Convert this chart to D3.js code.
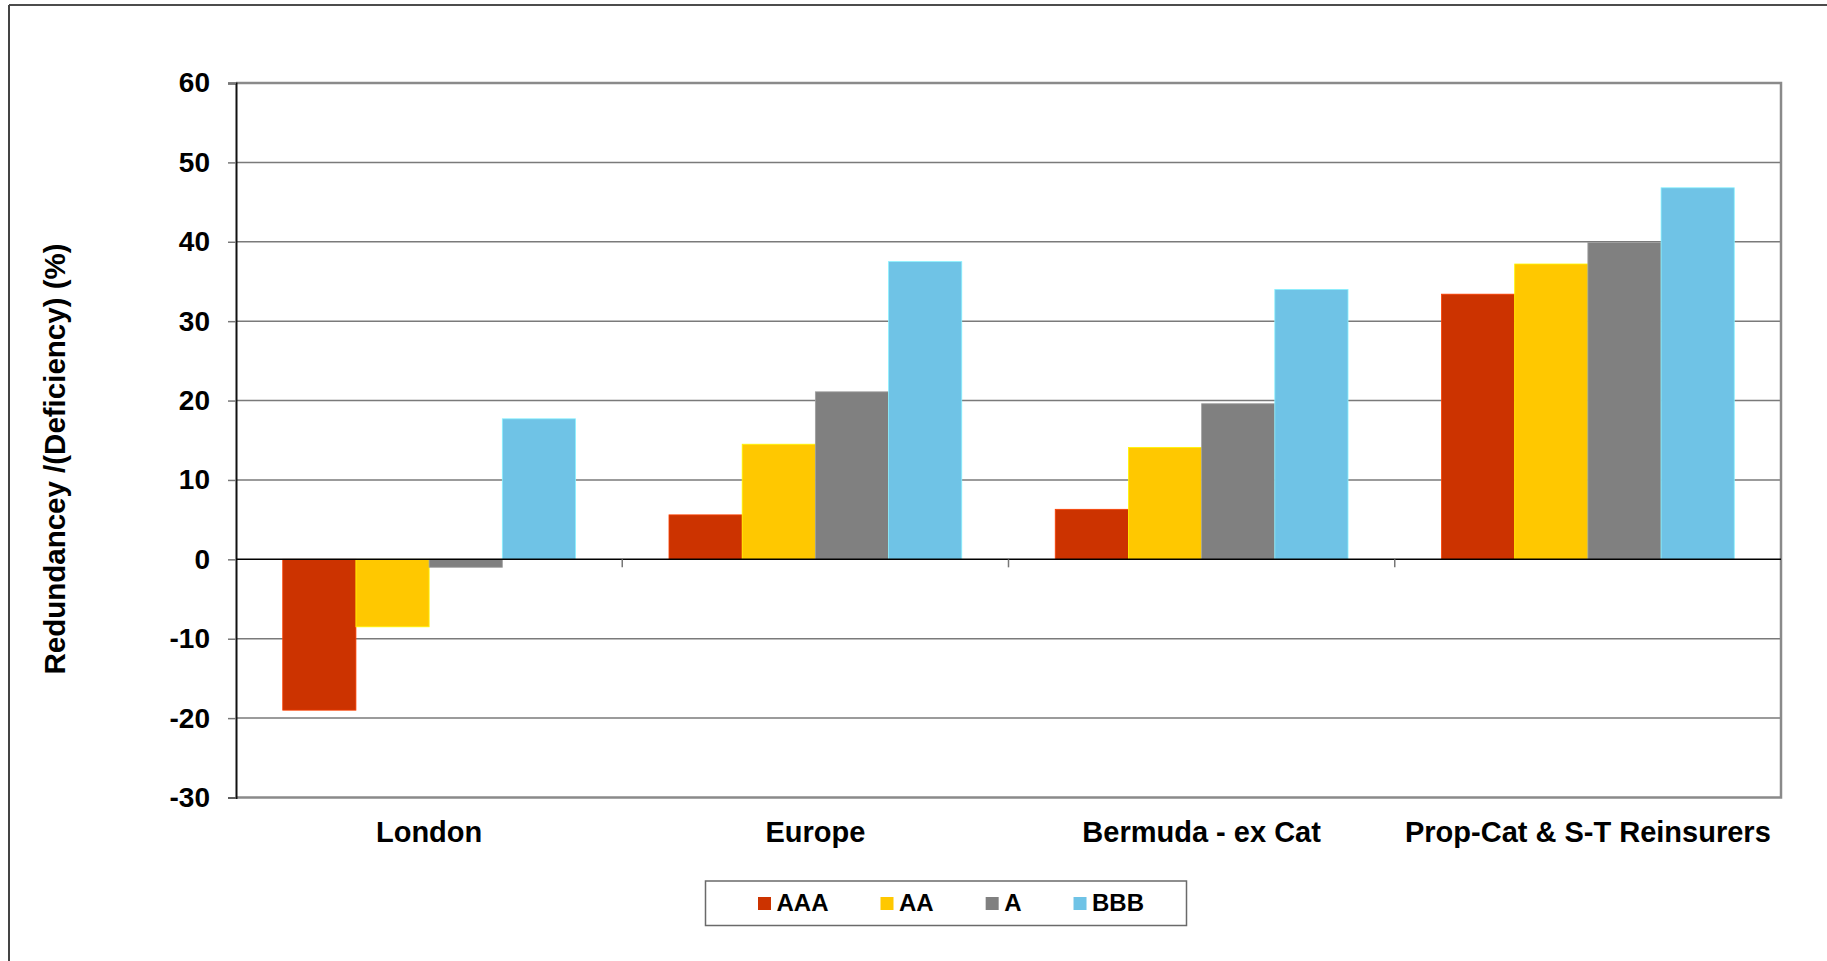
<!DOCTYPE html>
<html>
<head>
<meta charset="utf-8">
<script src="https://cdn.jsdelivr.net/npm/d3@7"></script>
<style>
  html, body { margin: 0; padding: 0; background: #ffffff; }
  svg { display: block; }
  text { font-family: Arial, "Liberation Sans", sans-serif; font-weight: bold; fill: #000; }
</style>
</head>
<body>
<svg id="chart" width="1827" height="961"></svg>
<script>
// Categories (market segments) and rating scenarios
const categories = ["London", "Europe", "Bermuda - ex Cat", "Prop-Cat & S-T Reinsurers"];
const series = ["AAA", "AA", "A", "BBB"];

// Capital redundancy / (deficiency) in % by rating level
const valuesAAA = [-19.0, 5.6, 6.3, 33.4];
const valuesAA  = [-8.5, 14.5, 14.1, 37.2];
const valuesA   = [-1.0, 21.1, 19.6, 39.9];
const valuesBBB = [17.7, 37.5, 34.0, 46.8];

const yTicks = [-30, -20, -10, 0, 10, 20, 30, 40, 50, 60];
const seriesColors = ["#CC3300", "#FFC800", "#808080", "#6FC3E6"];
const yTitle = "Redundancey /(Deficiency) (%)";

const seriesValues = [valuesAAA, valuesAA, valuesA, valuesBBB];
const rows = categories.map((c, i) => ({
  category: c,
  values: series.map((s, j) => ({ key: s, value: seriesValues[j][i] }))
}));

const svg = d3.select("#chart");
const W = 1827, H = 961;
const plot = { left: 236, right: 1781, top: 83, bottom: 797.5 };

// Outer chart frame (open to the right and bottom)
svg.append("line").attr("x1", 9).attr("x2", W).attr("y1", 5).attr("y2", 5)
  .attr("stroke", "#111").attr("stroke-width", 1.5);
svg.append("line").attr("x1", 9).attr("x2", 9).attr("y1", 5).attr("y2", H)
  .attr("stroke", "#444").attr("stroke-width", 2);

const x = d3.scaleBand().domain(categories).range([plot.left, plot.right]).paddingInner(0).paddingOuter(0);
const groupFrac = 0.758;
const x1 = d3.scaleBand().domain(series)
  .range([x.bandwidth() * (1 - groupFrac) / 2, x.bandwidth() * (1 + groupFrac) / 2]);
const y = d3.scaleLinear().domain([-30, 60]).range([plot.bottom, plot.top]);
const color = d3.scaleOrdinal().domain(series).range(seriesColors);

// Horizontal gridlines
svg.append("g").selectAll("line").data(yTicks.filter(t => t !== 0 && t !== 60 && t !== -30)).join("line")
  .attr("x1", plot.left).attr("x2", plot.right)
  .attr("y1", d => y(d)).attr("y2", d => y(d))
  .attr("stroke", "#7a7a7a").attr("stroke-width", 1.5);

// Plot frame: top, right, bottom in grey
svg.append("path")
  .attr("d", `M${plot.left},${plot.top}H${plot.right}V${plot.bottom}H${plot.left}`)
  .attr("fill", "none").attr("stroke", "#8a8a8a").attr("stroke-width", 2.5);

// Bars
const groups = svg.append("g").selectAll("g").data(rows).join("g")
  .attr("transform", d => `translate(${x(d.category)},0)`);
groups.selectAll("rect").data(d => d.values).join("rect")
  .attr("x", d => x1(d.key))
  .attr("width", x1.bandwidth())
  .attr("y", d => y(Math.max(0, d.value)))
  .attr("height", d => Math.abs(y(d.value) - y(0)))
  .attr("fill", d => color(d.key))
  .attr("stroke", d => d3.color(color(d.key)).brighter(0.6))
  .attr("stroke-width", 0.8);

// Y axis with outward ticks (plain hyphen for negatives)
const yAxis = d3.axisLeft(y).tickValues(yTicks).tickSize(8).tickPadding(18).tickFormat(d => String(d));
const yg = svg.append("g").attr("transform", `translate(${plot.left},0)`).call(yAxis);
yg.select(".domain").attr("stroke", "#111").attr("stroke-width", 2);
yg.selectAll(".tick line").attr("stroke", "#777").attr("stroke-width", 1.5);
yg.selectAll(".tick text").attr("font-size", 28).attr("font-weight", "bold")
  .attr("font-family", "Arial, 'Liberation Sans', sans-serif").attr("fill", "#000");

// Zero line with category separator ticks below it
svg.append("line").attr("x1", plot.left).attr("x2", plot.right)
  .attr("y1", y(0)).attr("y2", y(0)).attr("stroke", "#000").attr("stroke-width", 1.5);
svg.append("g").selectAll("line").data(categories.slice(1)).join("line")
  .attr("x1", d => x(d)).attr("x2", d => x(d))
  .attr("y1", y(0)).attr("y2", y(0) + 8)
  .attr("stroke", "#777").attr("stroke-width", 1.5);

// Category labels
svg.append("g").selectAll("text").data(categories).join("text")
  .attr("x", d => x(d) + x.bandwidth() / 2)
  .attr("y", 842)
  .attr("text-anchor", "middle")
  .attr("font-size", 29)
  .text(d => d);

// Y axis title
svg.append("text")
  .attr("transform", `translate(65,459) rotate(-90)`)
  .attr("text-anchor", "middle")
  .attr("font-size", 29.5)
  .text(yTitle);

// Legend
const legendBox = { x: 705.5, y: 881, w: 481, h: 44.5 };
svg.append("rect").attr("x", legendBox.x).attr("y", legendBox.y)
  .attr("width", legendBox.w).attr("height", legendBox.h)
  .attr("fill", "#fff").attr("stroke", "#6a6a6a").attr("stroke-width", 1.5);
let lx = legendBox.x + 52.5;
series.forEach(s => {
  svg.append("rect").attr("x", lx).attr("y", 897).attr("width", 13).attr("height", 13)
    .attr("fill", color(s));
  const t = svg.append("text").attr("x", lx + 18.5).attr("y", 911)
    .attr("font-size", 24).text(s);
  lx += 18.5 + t.node().getComputedTextLength() + 52;
});
</script>
</body>
</html>
